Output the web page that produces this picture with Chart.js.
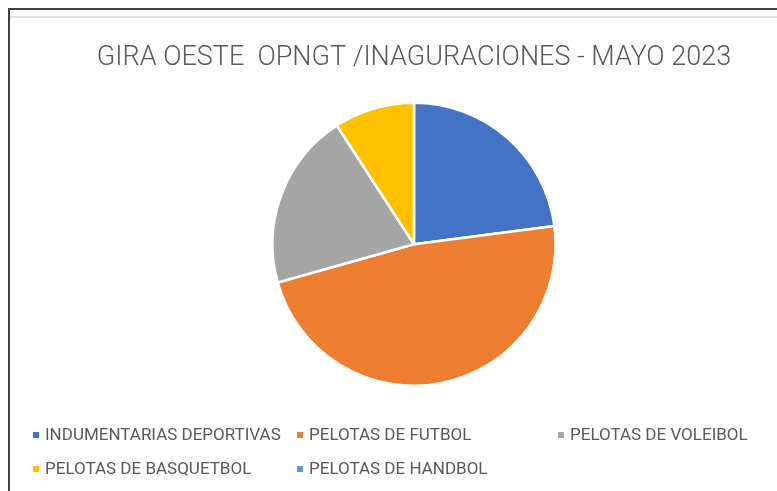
<!DOCTYPE html>
<html>
<head>
<meta charset="utf-8">
<script src="https://cdn.jsdelivr.net/npm/chart.js@4/dist/chart.umd.min.js"></script>
<style>
  html, body { margin: 0; padding: 0; background: #fff; }
  #wrap { position: relative; width: 777px; height: 491px; overflow: hidden; }
  #topLine { position: absolute; left: 9px; top: 8px; width: 768px; height: 2px; background: #404040; }
  #leftLine { position: absolute; left: 8px; top: 8px; width: 2px; height: 483px; background: #404040; }
  #greyLine { position: absolute; left: 10px; top: 16px; width: 767px; height: 2px; background: #e3e3e3; }
  #chartBox { position: absolute; left: 0; top: 0; width: 777px; height: 400px; }
  #legend { position: absolute; left: 0; top: 0; width: 777px; height: 491px; pointer-events: none; }
  .item { position: absolute; font-family: Roboto, sans-serif; font-size: 17px; color: #595959; white-space: nowrap; }
  .box { position: absolute; width: 6px; height: 6px; }
</style>
</head>
<body>
<div id="wrap">
  <div id="chartBox"><canvas id="pieChart"></canvas></div>
  <div id="topLine"></div>
  <div id="leftLine"></div>
  <div id="greyLine"></div>
  <div id="legend"></div>
</div>
<script>
// Chart data
const categories = [
  "INDUMENTARIAS DEPORTIVAS",
  "PELOTAS DE FUTBOL",
  "PELOTAS DE VOLEIBOL",
  "PELOTAS DE BASQUETBOL",
  "PELOTAS DE HANDBOL",
];
const values = [25, 52, 22, 10, 0];
const colors = ["#4472C4", "#ED7D31", "#A5A5A5", "#FFC000", "#5B9BD5"];
const chartTitle = "GIRA OESTE  OPNGT /INAGURACIONES - MAYO 2023";

// Excel-like legend laid out in columns
const legendSlots = [
  { x: 33, y: 432 },
  { x: 297, y: 432 },
  { x: 558, y: 432 },
  { x: 33, y: 466 },
  { x: 297, y: 466 },
];

const htmlLegend = {
  id: "htmlLegend",
  afterUpdate(chart) {
    const container = document.getElementById("legend");
    container.innerHTML = "";
    const items = chart.options.plugins.legend.labels.generateLabels(chart);
    items.forEach((item, i) => {
      const slot = legendSlots[i];
      const box = document.createElement("div");
      box.className = "box";
      box.style.left = slot.x + "px";
      box.style.top = slot.y + "px";
      box.style.background = item.fillStyle;
      const text = document.createElement("div");
      text.className = "item";
      text.style.left = slot.x + 12 + "px";
      text.style.top = slot.y - 8 + "px";
      text.textContent = item.text;
      container.appendChild(box);
      container.appendChild(text);
    });
  },
};

new Chart(document.getElementById("pieChart"), {
  type: "pie",
  data: {
    labels: categories,
    datasets: [
      {
        data: values,
        backgroundColor: colors,
        borderColor: "#ffffff",
        borderWidth: 2.5,
      },
    ],
  },
  options: {
    responsive: true,
    maintainAspectRatio: false,
    animation: false,
    layout: { padding: { left: 51, right: 0, top: 0, bottom: 13 } },
    plugins: {
      legend: { display: false },
      tooltip: { enabled: false },
      title: {
        display: true,
        text: chartTitle,
        color: "#595959",
        font: { family: "Roboto", size: 27, weight: "300" },
        padding: { top: 42, bottom: 27 },
      },
    },
  },
  plugins: [htmlLegend],
});
</script>
</body>
</html>
